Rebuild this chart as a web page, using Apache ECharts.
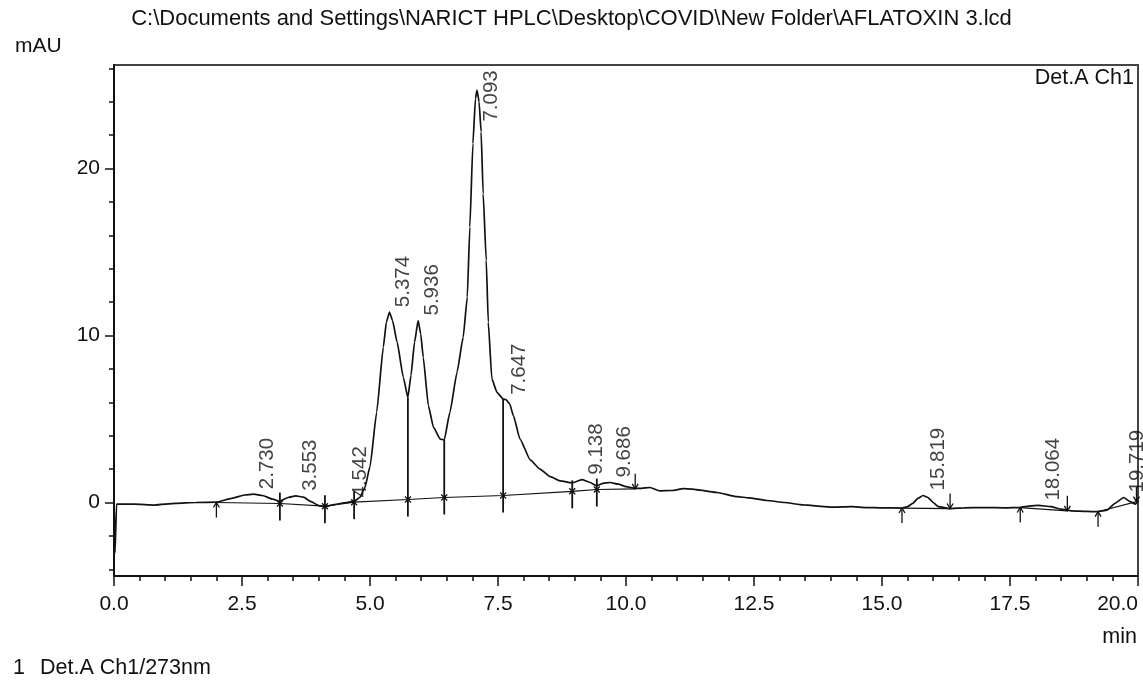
<!DOCTYPE html>
<html>
<head>
<meta charset="utf-8">
<script src="https://cdn.jsdelivr.net/npm/echarts@6/dist/echarts.min.js"></script>
<style>
html, body { margin: 0; padding: 0; background: #fff; }
#chromatogram { width: 1143px; height: 682px; }
</style>
</head>
<body>
<div id="chromatogram"></div>
<script>
// retention time (min) / detector signal (mAU)
const times = [
  0, 0.02, 0.05, 0.4, 0.8, 1.2, 1.6, 2.0, 2.3, 2.55,
  2.73, 2.9, 3.1, 3.24, 3.4, 3.55, 3.7, 3.85, 4.0, 4.12,
  4.3, 4.54, 4.69, 4.8, 4.9, 5.0, 5.13, 5.26, 5.32, 5.38,
  5.44, 5.53, 5.65, 5.74, 5.8, 5.87, 5.94, 5.99, 6.04, 6.14,
  6.24, 6.37, 6.45, 6.56, 6.70, 6.82, 6.90, 6.95, 7.01, 7.06,
  7.09, 7.13, 7.17, 7.21, 7.27, 7.31, 7.38, 7.48, 7.60, 7.66,
  7.73, 7.80, 7.93, 8.13, 8.32, 8.52, 8.71, 8.95, 9.14, 9.30,
  9.43, 9.55, 9.69, 9.85, 10.0, 10.18, 10.3, 10.47, 10.66, 10.9,
  11.12, 11.3, 11.44, 11.78, 12.17, 12.4, 12.75, 13.1, 13.4, 13.7,
  14.04, 14.4, 14.7, 15.0, 15.39, 15.5, 15.6, 15.7, 15.8, 15.9,
  16.0, 16.1, 16.33, 16.6, 17.0, 17.4, 17.7, 17.9, 18.06, 18.3,
  18.5, 18.7, 19.0, 19.2, 19.4, 19.55, 19.72, 19.85, 19.95, 20.0
];
const signal = [
  0, -3.0, -0.1, -0.1, -0.15, -0.05, 0, 0.02, 0.25, 0.45,
  0.5, 0.42, 0.2, 0.08, 0.3, 0.4, 0.32, 0.05, -0.18, -0.25,
  -0.12, 0.0, 0.08, 0.3, 0.9, 2.15, 5.4, 9.3, 10.8, 11.4,
  10.9, 9.6, 7.5, 6.3, 7.6, 9.6, 10.9, 10.1, 8.7, 5.8,
  4.5, 3.8, 3.75, 5.4, 7.8, 9.9, 12.3, 16.5, 21.5, 24.2,
  24.7, 24.0, 22.2, 18.5, 14.5, 10.8, 7.4, 6.6, 6.2, 6.15,
  5.9, 5.2, 3.8, 2.55, 2.0, 1.55, 1.3, 1.18, 1.37, 1.2,
  1.0, 1.15, 1.2, 1.1, 0.95, 0.85, 0.85, 0.9, 0.7, 0.72,
  0.83, 0.8, 0.74, 0.6, 0.35, 0.28, 0.12, 0.0, -0.12, -0.2,
  -0.28, -0.25, -0.3, -0.32, -0.33, -0.25, -0.05, 0.25, 0.42, 0.3,
  0.0, -0.25, -0.36, -0.32, -0.3, -0.32, -0.3, -0.2, -0.17, -0.25,
  -0.4, -0.5, -0.53, -0.55, -0.45, -0.05, 0.3, 0.05, -0.1, 0.1
];

// peak tops and the retention times printed beside them
const peakTimes = [2.730, 3.553, 4.542, 5.374, 5.936, 7.093, 7.647, 9.138, 9.686, 15.819, 18.064, 19.719];
const peakHeights = [0.5, 0.4, 0.0, 11.4, 10.9, 24.7, 6.15, 1.37, 1.2, 0.42, -0.18, 0.3];
const peakNames = ["2.730", "3.553", "4.542", "5.374", "5.936", "7.093", "7.647", "9.138", "9.686", "15.819", "18.064", "19.719"];

// integration marks: kind 0 = start, 1 = end, 2 = valley (drop line up to markTop)
const markTimes = [2.0, 3.24, 4.12, 4.69, 5.74, 6.45, 7.6, 8.95, 9.43, 10.18, 15.39, 16.33, 17.7, 18.62, 19.22, 19.97];
const markBase = [0.0, -0.06, -0.22, 0.02, 0.18, 0.3, 0.42, 0.67, 0.78, 0.82, -0.33, -0.36, -0.3, -0.5, -0.55, 0.05];
const markTop = [0.0, 0.08, -0.25, 0.08, 6.3, 3.75, 6.2, 1.18, 1.0, 0.85, -0.33, -0.36, -0.3, -0.5, -0.55, 0.1];
const markKind = [0, 2, 2, 2, 2, 2, 2, 2, 2, 1, 0, 1, 0, 1, 0, 1];
const markSegment = [1, 1, 1, 1, 1, 1, 1, 1, 1, 1, 2, 2, 3, 3, 4, 4];

// axis ticks
const yLabelValues = [0, 10, 20];
const yMinorValues = [-4, -2, 2, 4, 6, 8, 12, 14, 16, 18, 22, 24, 26];

const FONT = '"Liberation Sans", Arial, sans-serif';
const INK = '#111';
const TEXT = '#111';

const chart = echarts.init(document.getElementById('chromatogram'));

function renderMark(params, api) {
  const p = api.coord([api.value(0), api.value(1)]);
  const topY = api.coord([api.value(0), api.value(3)])[1];
  const kind = api.value(2);
  const x = p[0], y = p[1];
  const style = { stroke: INK, lineWidth: 1.3, fill: null };
  const kids = [];
  if (kind === 0) {
    kids.push({ type: 'line', shape: { x1: x, y1: y, x2: x, y2: y + 15 }, style });
    kids.push({ type: 'polyline', shape: { points: [[x - 3, y + 5], [x, y], [x + 3, y + 5]] }, style });
  } else if (kind === 1) {
    kids.push({ type: 'line', shape: { x1: x, y1: y - 15, x2: x, y2: y }, style });
    kids.push({ type: 'polyline', shape: { points: [[x - 3, y - 5], [x, y], [x + 3, y - 5]] }, style });
  } else {
    kids.push({ type: 'line', shape: { x1: x, y1: Math.min(topY, y - 11), x2: x, y2: y + 17 }, style: { stroke: INK, lineWidth: 1.8 } });
    kids.push({ type: 'line', shape: { x1: x - 3, y1: y - 3, x2: x + 3, y2: y + 3 }, style });
    kids.push({ type: 'line', shape: { x1: x - 3, y1: y + 3, x2: x + 3, y2: y - 3 }, style });
  }
  return { type: 'group', children: kids };
}

// baseline pieces between integration marks
const baselineSeries = [1, 2, 3, 4].map(function (seg) {
  const pts = [];
  markTimes.forEach(function (t, i) {
    if (markSegment[i] === seg) pts.push([t, markBase[i]]);
  });
  return {
    type: 'line', data: pts, showSymbol: false, silent: true,
    lineStyle: { color: INK, width: 1.2 }, z: 3
  };
});

const option = {
  animation: false,
  title: {
    text: 'C:\\Documents and Settings\\NARICT HPLC\\Desktop\\COVID\\New Folder\\AFLATOXIN 3.lcd',
    left: 'center',
    top: 3,
    textStyle: { fontFamily: FONT, fontSize: 22, fontWeight: 'normal', color: TEXT }
  },
  grid: {
    left: 114, right: 5, top: 65, bottom: 106,
    show: true, borderColor: '#444', borderWidth: 2,
    outerBoundsMode: 'none'
  },
  xAxis: {
    type: 'value', min: 0, max: 20, interval: 2.5,
    axisLine: { show: true, onZero: false, lineStyle: { color: INK, width: 2 } },
    axisTick: { show: true, inside: false, length: 10, lineStyle: { color: INK, width: 1.5 } },
    minorTick: { show: true, splitNumber: 5, length: 5, lineStyle: { color: INK, width: 1.5 } },
    axisLabel: {
      fontFamily: FONT, fontSize: 21, color: TEXT, margin: 18,
      alignMaxLabel: 'right',
      formatter: function (v) { return v.toFixed(1); }
    },
    splitLine: { show: false }
  },
  yAxis: [{
    type: 'value', min: -4.4, max: 26.2,
    axisLine: { show: true, onZero: false, lineStyle: { color: INK, width: 2 } },
    axisTick: { show: true, inside: false, length: 9, customValues: yLabelValues, lineStyle: { color: INK, width: 1.5 } },
    axisLabel: { customValues: yLabelValues, fontFamily: FONT, fontSize: 21, color: TEXT, margin: 14 },
    splitLine: { show: false }
  }, {
    type: 'value', min: -4.4, max: 26.2, position: 'left',
    axisLine: { show: false },
    axisTick: { show: true, inside: false, length: 5, customValues: yMinorValues, lineStyle: { color: INK, width: 1.5 } },
    axisLabel: { show: false },
    splitLine: { show: false }
  }],
  graphic: [
    { type: 'text', left: 15, top: 36, style: { text: 'mAU', font: '21px ' + FONT, fill: TEXT } },
    { type: 'text', right: 9, top: 67, style: { text: 'Det.A Ch1', font: '21.5px ' + FONT, fill: TEXT } },
    { type: 'text', right: 6, top: 626, style: { text: 'min', font: '21.5px ' + FONT, fill: TEXT } },
    { type: 'text', left: 13, top: 657, style: { text: '1', font: '21.5px ' + FONT, fill: TEXT } },
    { type: 'text', left: 40, top: 657, style: { text: 'Det.A Ch1/273nm', font: '21.5px ' + FONT, fill: TEXT } }
  ],
  series: [{
    type: 'line',
    data: times.map(function (t, i) { return [t, signal[i]]; }),
    showSymbol: false,
    smooth: 0.15,
    smoothMonotone: 'x',
    silent: true,
    lineStyle: { color: INK, width: 1.7 },
    z: 4
  }].concat(baselineSeries, [{
    type: 'custom',
    renderItem: renderMark,
    data: markTimes.map(function (t, i) { return [t, markBase[i], markKind[i], markTop[i]]; }),
    clip: false,
    silent: true,
    z: 5
  }, {
    type: 'scatter',
    symbolSize: 1,
    itemStyle: { color: 'transparent' },
    silent: true,
    data: peakTimes.map(function (t, i) {
      const item = { value: [t, peakHeights[i]] };
      if (peakNames[i] === '7.093') item.label = { position: [14.5, 32] };
      return item;
    }),
    label: {
      show: true,
      rotate: 90,
      position: [14.5, -4.5],
      align: 'left',
      verticalAlign: 'middle',
      fontFamily: FONT,
      fontSize: 20.5,
      color: TEXT,
      formatter: function (p) { return peakNames[p.dataIndex]; }
    },
    z: 6
  }])
};

chart.setOption(option);
</script>
</body>
</html>
